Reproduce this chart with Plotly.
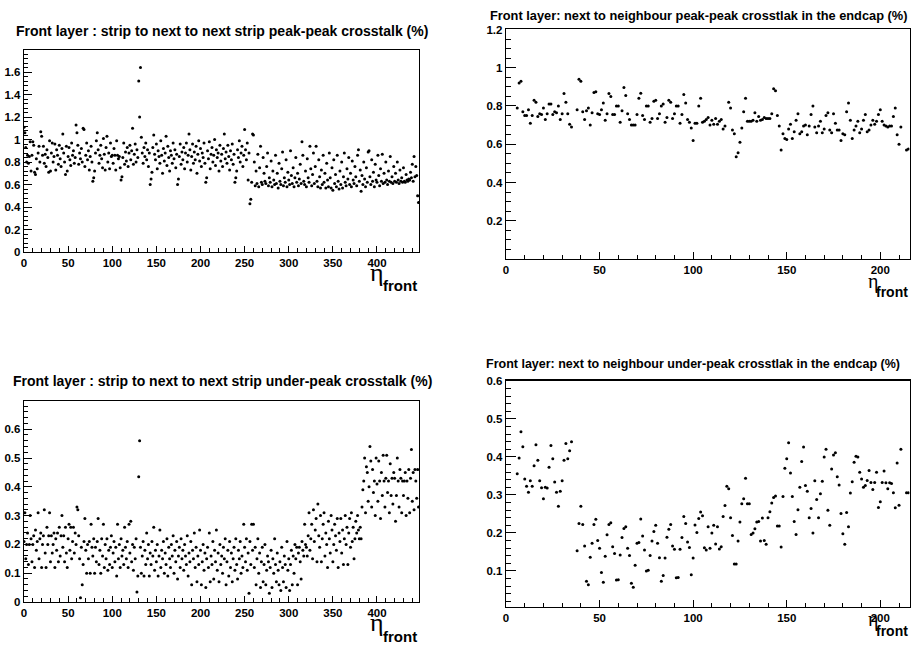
import plotly.graph_objects as go

# ---------------- data ----------------
titles = [
    "Front layer : strip to next to next strip peak-peak crosstalk (%)",
    "Front layer: next to neighbour peak-peak crosstlak in the endcap (%)",
    "Front layer : strip to next to next strip under-peak crosstalk (%)",
    "Front layer: next to neighbour under-peak crosstlak in the endcap (%)",
]

# barrel strips 0..447
barrel_peak = [
    1.11, 1.06, 0.93, 0.80, 0.86, 0.79, 0.85, 0.98, 0.72, 0.86,
    0.98, 0.95, 0.71, 0.69, 0.83, 0.74, 0.88, 0.94, 0.80, 1.07,
    1.03, 0.86, 0.94, 0.79, 0.87, 0.76, 0.91, 0.84, 0.71, 0.99,
    0.72, 0.88, 0.97, 0.80, 0.85, 0.96, 0.73, 0.91, 0.86, 0.78,
    0.95, 0.83, 0.76, 0.92, 1.05, 0.88, 0.80, 0.69, 0.94, 0.72,
    0.85, 0.93, 0.82, 0.77, 0.97, 0.86, 0.90, 0.79, 0.84, 1.13,
    1.06, 0.95, 0.78, 0.88, 0.83, 0.92, 0.80, 1.10, 1.09, 0.76,
    0.86, 0.97, 0.82, 0.90, 0.73, 0.85, 0.94, 0.80, 0.63, 0.66,
    0.72, 0.88, 0.99, 1.06, 0.91, 0.79, 0.86, 0.95, 0.83, 0.75,
    1.01, 0.87, 0.73, 0.93, 1.03, 0.80, 0.88, 0.74, 0.97, 0.85,
    0.86, 0.79, 0.92, 0.86, 0.73, 0.99, 0.86, 0.83, 0.85, 0.75,
    0.64, 0.67, 0.84, 0.97, 0.78, 0.89, 0.81, 0.93, 0.76, 0.88,
    0.95, 0.82, 0.90, 1.10, 0.78, 0.87, 0.96, 0.80, 0.91, 0.84,
    1.52, 1.20, 1.64, 1.02, 0.88, 0.79, 0.93, 0.85, 0.97, 0.82,
    0.91, 0.76, 0.88, 0.60, 0.65, 0.71, 0.93, 1.04, 0.87, 0.82,
    0.96, 0.74, 0.90, 0.85, 0.79, 0.99, 0.86, 0.70, 0.92, 0.81,
    0.88, 1.03, 0.77, 0.94, 0.84, 0.72, 0.90, 0.86, 0.79, 0.97,
    0.83, 0.91, 0.75, 0.87, 0.60, 0.65, 0.85, 0.96, 0.78, 0.89,
    0.82, 0.93, 0.74, 0.88, 0.97, 0.80, 0.86, 1.05, 0.91, 0.73,
    0.85, 0.96, 0.79, 0.89, 0.82, 0.94, 0.70, 0.87, 0.99, 0.81,
    0.92, 0.76, 0.88, 0.84, 0.97, 0.79, 0.62, 0.66, 0.90, 0.83,
    0.98, 0.74, 0.87, 0.93, 0.80, 0.86, 1.00, 0.77, 0.91, 0.84,
    0.88, 0.72, 0.95, 0.81, 0.87, 0.76, 0.92, 1.05, 0.83, 0.89,
    0.79, 0.95, 0.85, 0.73, 0.90, 0.82, 0.96, 0.78, 0.87, 0.62,
    0.66, 0.72, 0.91, 0.84, 0.99, 0.80, 0.88, 0.94, 0.76, 0.86,
    1.09, 0.91, 0.82, 0.97, 0.64, 0.88, 0.43, 0.47, 0.62, 1.05,
    1.04, 0.80, 0.59, 0.72, 0.61, 0.87, 0.58, 0.75, 0.94, 0.62,
    0.60, 0.84, 0.70, 0.63, 0.61, 0.76, 0.88, 0.59, 0.66, 0.62,
    0.81, 0.58, 0.72, 0.64, 0.60, 0.86, 0.61, 0.70, 0.57, 0.79,
    0.63, 0.60, 0.74, 0.89, 0.59, 0.66, 0.62, 0.82, 0.58, 0.71,
    0.64, 0.60, 0.90, 0.68, 0.61, 0.75, 0.58, 0.66, 0.84, 0.62,
    0.70, 0.59, 0.65, 0.78, 0.61, 0.98, 0.86, 0.63, 0.60, 0.72,
    0.58, 0.83, 0.66, 0.62, 0.94, 0.74, 0.59, 0.69, 0.88, 0.61,
    0.76, 0.94, 0.63, 0.58, 0.82, 0.67, 0.57, 0.73, 0.60, 0.86,
    0.62, 0.70, 0.57, 0.79, 0.64, 0.58, 0.88, 0.66, 0.57, 0.75,
    0.55, 0.82, 0.61, 0.69, 0.58, 0.86, 0.63, 0.56, 0.72, 0.60,
    0.80, 0.57, 0.67, 0.88, 0.62, 0.59, 0.74, 0.65, 0.84, 0.60,
    0.70, 0.58, 0.81, 0.64, 0.61, 0.76, 0.67, 0.59, 0.86, 0.91,
    0.63, 0.73, 0.54, 0.68, 0.60, 0.80, 0.65, 0.58, 0.75, 0.62,
    0.89, 0.90, 0.67, 0.60, 0.82, 0.63, 0.71, 0.58, 0.78, 0.64,
    0.62, 0.86, 0.68, 0.59, 0.74, 0.63, 0.87, 0.61, 0.70, 0.62,
    0.80, 0.64, 0.60, 0.72, 0.63, 0.85, 0.62, 0.67, 0.61, 0.76,
    0.63, 0.70, 0.62, 0.80, 0.64, 0.61, 0.73, 0.63, 0.66, 0.62,
    0.75, 0.63, 0.62, 0.69, 0.64, 0.63, 0.65, 0.64, 0.71, 0.66,
    0.78, 0.63, 0.85, 0.67, 0.76, 0.68, 0.50, 0.44,
]

barrel_under = [
    0.21, 0.31, 0.15, 0.20, 0.24, 0.13, 0.20, 0.30, 0.22, 0.14,
    0.20, 0.23, 0.12, 0.25, 0.18, 0.21, 0.31, 0.15, 0.22, 0.24,
    0.12, 0.20, 0.23, 0.32, 0.17, 0.12, 0.26, 0.20, 0.23, 0.31,
    0.14, 0.23, 0.17, 0.20, 0.24, 0.12, 0.22, 0.18, 0.24, 0.14,
    0.26, 0.16, 0.23, 0.30, 0.19, 0.23, 0.14, 0.26, 0.17, 0.12,
    0.22, 0.27, 0.18, 0.26, 0.15, 0.21, 0.26, 0.17, 0.24, 0.20,
    0.33, 0.32, 0.23, 0.15, 0.015, 0.19, 0.06, 0.13, 0.21, 0.29,
    0.18, 0.10, 0.20, 0.15, 0.21, 0.10, 0.27, 0.19, 0.16, 0.22,
    0.10, 0.19, 0.14, 0.21, 0.29, 0.13, 0.18, 0.10, 0.22, 0.16,
    0.27, 0.12, 0.20, 0.15, 0.22, 0.11, 0.18, 0.13, 0.19, 0.23,
    0.12, 0.17, 0.21, 0.14, 0.19, 0.09, 0.27, 0.15, 0.20, 0.12,
    0.22, 0.16, 0.18, 0.13, 0.26, 0.19, 0.15, 0.21, 0.12, 0.27,
    0.17, 0.28, 0.14, 0.20, 0.11, 0.19, 0.15, 0.22, 0.035, 0.09,
    0.435, 0.56, 0.19, 0.10, 0.16, 0.21, 0.09, 0.18, 0.13, 0.24,
    0.15, 0.20, 0.09, 0.17, 0.13, 0.21, 0.16, 0.26, 0.11, 0.18,
    0.14, 0.20, 0.09, 0.16, 0.25, 0.12, 0.18, 0.15, 0.21, 0.10,
    0.17, 0.13, 0.22, 0.09, 0.19, 0.15, 0.12, 0.20, 0.16, 0.23,
    0.10, 0.18, 0.14, 0.21, 0.08, 0.16, 0.19, 0.12, 0.22, 0.15,
    0.18, 0.11, 0.20, 0.16, 0.13, 0.23, 0.09, 0.17, 0.14, 0.21,
    0.06, 0.18, 0.15, 0.24, 0.12, 0.19, 0.07, 0.16, 0.13, 0.25,
    0.18, 0.06, 0.14, 0.20, 0.11, 0.17, 0.05, 0.15, 0.19, 0.12,
    0.24, 0.07, 0.16, 0.13, 0.21, 0.08, 0.18, 0.14, 0.25, 0.11,
    0.17, 0.07, 0.20, 0.13, 0.16, 0.10, 0.19, 0.15, 0.22, 0.06,
    0.14, 0.18, 0.09, 0.21, 0.12, 0.17, 0.07, 0.15, 0.19, 0.11,
    0.22, 0.13, 0.08, 0.18, 0.15, 0.21, 0.10, 0.16, 0.12, 0.27,
    0.19, 0.14, 0.22, 0.11, 0.17, 0.03, 0.21, 0.13, 0.27, 0.18,
    0.27, 0.12, 0.19, 0.06, 0.15, 0.22, 0.10, 0.17, 0.05, 0.14,
    0.19, 0.07, 0.13, 0.20, 0.06, 0.11, 0.16, 0.14, 0.03, 0.12,
    0.18, 0.05, 0.15, 0.10, 0.22, 0.13, 0.07, 0.17, 0.11, 0.06,
    0.14, 0.04, 0.19, 0.12, 0.07, 0.16, 0.13, 0.05, 0.21, 0.11,
    0.15, 0.04, 0.13, 0.18, 0.06, 0.16, 0.10, 0.20, 0.15, 0.19,
    0.06, 0.17, 0.19, 0.14, 0.08, 0.21, 0.18, 0.16, 0.27, 0.20,
    0.19, 0.16, 0.23, 0.31, 0.18, 0.22, 0.27, 0.15, 0.32, 0.21,
    0.25, 0.29, 0.14, 0.34, 0.23, 0.19, 0.30, 0.14, 0.22, 0.27,
    0.31, 0.16, 0.24, 0.20, 0.12, 0.28, 0.22, 0.17, 0.30, 0.25,
    0.14, 0.20, 0.27, 0.23, 0.18, 0.29, 0.12, 0.24, 0.21, 0.29,
    0.17, 0.25, 0.13, 0.22, 0.30, 0.20, 0.26, 0.13, 0.24, 0.29,
    0.19, 0.31, 0.21, 0.26, 0.15, 0.22, 0.28, 0.24, 0.30, 0.25,
    0.22, 0.26, 0.22, 0.33, 0.39, 0.42, 0.50, 0.31, 0.47, 0.45,
    0.35, 0.40, 0.54, 0.49, 0.33, 0.46, 0.38, 0.42, 0.30, 0.50,
    0.41, 0.35, 0.49, 0.42, 0.29, 0.45, 0.37, 0.51, 0.42, 0.33,
    0.43, 0.51, 0.38, 0.42, 0.31, 0.48, 0.37, 0.43, 0.34, 0.45,
    0.43, 0.28, 0.37, 0.50, 0.42, 0.33, 0.46, 0.43, 0.31, 0.42,
    0.37, 0.42, 0.45, 0.30, 0.42, 0.36, 0.46, 0.31, 0.43, 0.53,
    0.35, 0.45, 0.32, 0.46, 0.42, 0.36, 0.46, 0.33,
]

# endcap strips 6..215 (None = no measurement)
endcap_first = 6
endcap_peak = [
    0.79, 0.92, 0.93, 0.77, 0.75, 0.75, 0.78, 0.71, 0.75, 0.83,
    0.82, 0.745, 0.76, 0.755, 0.79, 0.73, 0.76, 0.81, 0.81, 0.755,
    0.77, 0.765, 0.80, 0.73, 0.76, 0.865, 0.82, 0.76, 0.705, 0.69,
    None, None,
    0.78, 0.94, 0.93, 0.77, 0.73, 0.775, 0.79, 0.70, 0.765, 0.87,
    0.875, 0.76, 0.755, 0.78, 0.815, 0.725, 0.76, 0.865, 0.85, 0.755,
    0.755, 0.80, 0.80, 0.715, 0.775, 0.897, 0.855, 0.76, 0.73, 0.70,
    0.70, 0.70, 0.755, 0.84, 0.866, 0.75, 0.73, 0.80, 0.80, 0.715,
    0.735, 0.825, 0.83, 0.735, 0.76, 0.80, 0.81, 0.715, 0.74, 0.83,
    0.82, 0.735, 0.76, 0.80, 0.80, 0.71, 0.755, 0.86, 0.815, 0.73,
    0.715, 0.685, 0.62, 0.71, 0.71, 0.80, 0.84, 0.715, 0.72, 0.73,
    0.74, 0.70, 0.725, 0.705, 0.735, 0.705, 0.72, 0.73, 0.68, 0.695,
    None, 0.82, 0.79, 0.675, 0.655, 0.535, 0.555, 0.61, 0.685, 0.77,
    0.84, 0.72, 0.72, 0.72, 0.725, 0.765, 0.72, 0.745, 0.725, 0.73,
    0.74, 0.735, 0.735, 0.735, 0.76, 0.89, 0.88, 0.75, 0.695, 0.57,
    0.655, 0.63, 0.625, 0.68, 0.705, 0.63, 0.665, 0.725, 0.76, 0.655,
    0.665, 0.695, 0.70, 0.65, 0.695, 0.755, 0.80, 0.69, 0.66, 0.695,
    0.72, 0.66, 0.68, 0.75, 0.765, 0.675, 0.66, 0.76, 0.71, 0.675,
    0.675, 0.62, 0.655, 0.65, 0.77, 0.815, 0.725, 0.63, 0.675, 0.695,
    0.72, 0.66, 0.68, 0.725, 0.755, 0.665, 0.675, 0.70, 0.725, 0.705,
    0.72, 0.755, 0.78, 0.72, 0.70, 0.695, 0.69, 0.695, 0.695, 0.745,
    0.79, 0.65, 0.60, 0.69, None, None, 0.57, 0.575,
]

endcap_under = [
    0.356, 0.397, 0.466, 0.427, 0.342, 0.323, 0.307, 0.337, 0.323, 0.377,
    0.432, 0.391, 0.337, 0.319, 0.29, 0.32, 0.318, 0.373, 0.43, 0.395,
    0.334, 0.307, 0.27, 0.31, 0.337, 0.391, 0.435, 0.395, 0.416, 0.44,
    None, None,
    0.153, 0.225, 0.27, 0.222, 0.166, 0.073, 0.064, 0.136, 0.173, 0.222,
    0.236, 0.18, 0.16, 0.096, 0.07, 0.139, 0.195, 0.222, 0.227, 0.164,
    0.146, 0.076, 0.077, 0.142, 0.188, 0.212, 0.216, 0.16, 0.141, 0.068,
    0.057, 0.115, 0.173, 0.175, 0.237, 0.192, 0.155, 0.10, 0.102, 0.141,
    0.179, 0.204, 0.22, 0.173, 0.135, 0.073, 0.088, 0.134, 0.189, 0.21,
    0.222, 0.166, 0.157, 0.082, 0.083, 0.157, 0.188, 0.243, 0.225, 0.176,
    0.162, 0.09, 0.134, 0.221, 0.201, 0.238, 0.255, 0.245, 0.161, 0.155,
    0.216, 0.16, 0.20, 0.22, 0.171, 0.216, 0.158, 0.164, 0.243, 0.272,
    0.323, 0.316, 0.24, 0.193, 0.118, 0.118, 0.179, 0.229, 0.277, 0.29,
    0.344, 0.277, 0.277, 0.196, 0.20, 0.211, 0.229, 0.23, 0.179, 0.239,
    0.18, 0.17, 0.24, 0.256, 0.279, 0.293, 0.297, 0.218, 0.218, 0.163,
    0.296, 0.37, 0.395, 0.437, 0.358, 0.296, 0.23, 0.196, 0.261, 0.32,
    0.388, 0.426, 0.325, 0.31, 0.24, 0.264, 0.20, 0.337, 0.288, 0.24,
    0.303, 0.336, 0.40, 0.42, 0.26, 0.22, 0.368, 0.405, 0.411, 0.348,
    0.326, 0.251, 0.198, 0.17, 0.254, 0.216, 0.305, 0.335, 0.386, 0.402,
    0.40, 0.36, 0.342, 0.32, 0.325, 0.338, 0.364, 0.333, 0.314, 0.333,
    0.36, 0.267, 0.282, 0.333, 0.363, 0.332, 0.316, 0.332, 0.33, 0.306,
    0.266, 0.384, 0.273, 0.42, None, None, 0.306, 0.306,
]

x_barrel = list(range(len(barrel_peak)))
x_endcap = list(range(endcap_first, endcap_first + len(endcap_peak)))

# ---------------- figure ----------------
W, H = 911, 650
FONT = "Liberation Sans, Arial, Helvetica, sans-serif"
SERIF = "Liberation Serif, Times New Roman, serif"

def px_dom_x(a, b):
    return [a / W, b / W]

def px_dom_y(top, bottom):
    return [1 - bottom / H, 1 - top / H]

panels = [
    dict(xd=px_dom_x(24, 419), yd=px_dom_y(50, 252), xr=[0, 447.6], yr=[0, 1.796],
         ydt=0.2, ymn=0.04, x=x_barrel, y=barrel_peak, ylen=8, xlen=6),
    dict(xd=px_dom_x(506, 909.5), yd=px_dom_y(29.4, 258.6), xr=[0, 215.6], yr=[0.002, 1.2005],
         ydt=0.2, ymn=0.05, x=x_endcap, y=endcap_peak, ylen=10, xlen=7),
    dict(xd=px_dom_x(24, 419), yd=px_dom_y(401, 602), xr=[0, 447.6], yr=[0, 0.698],
         ydt=0.1, ymn=0.02, x=x_barrel, y=barrel_under, ylen=8, xlen=6),
    dict(xd=px_dom_x(506, 909.5), yd=px_dom_y(380.7, 606.7), xr=[0, 215.6], yr=[0.006, 0.6005],
         ydt=0.1, ymn=0.02, x=x_endcap, y=endcap_under, ylen=10, xlen=7),
]

fig = go.Figure()
layout = dict(
    width=W, height=H,
    margin=dict(l=0, r=0, t=0, b=0, autoexpand=False),
    paper_bgcolor="white", plot_bgcolor="white",
    showlegend=False,
    font=dict(family=FONT, color="black"),
)

for i, p in enumerate(panels):
    n = "" if i == 0 else str(i + 1)
    fig.add_trace(go.Scatter(
        x=p["x"], y=p["y"], mode="markers",
        marker=dict(size=3, color="black", symbol="circle"),
        xaxis="x" + n, yaxis="y" + n, hoverinfo="skip",
    ))
    layout["xaxis" + n] = dict(
        domain=p["xd"], range=p["xr"], anchor="y" + n, automargin=False,
        showgrid=False, zeroline=False, showline=True, linecolor="black", linewidth=1.3,
        mirror=True, ticks="inside", ticklen=p["xlen"], tickwidth=1, tickcolor="black",
        dtick=50, tick0=0,
        minor=dict(dtick=10, tick0=0, ticks="inside", ticklen=p["xlen"] // 2 + 1,
                   tickcolor="black", tickwidth=1),
        tickfont=dict(family=FONT, size=11.5, color="black", weight="bold"),
    )
    layout["yaxis" + n] = dict(
        domain=p["yd"], range=p["yr"], anchor="x" + n, automargin=False,
        showgrid=False, zeroline=False, showline=True, linecolor="black", linewidth=1.3,
        mirror=True, ticks="inside", ticklen=p["ylen"], tickwidth=1, tickcolor="black",
        dtick=p["ydt"], tick0=0,
        minor=dict(dtick=p["ymn"], tick0=0, ticks="inside", ticklen=p["ylen"] // 2,
                   tickcolor="black", tickwidth=1),
        tickfont=dict(family=FONT, size=11.5, color="black", weight="bold"),
    )

fig.update_layout(**layout)

# titles: (center x, center y, font size)
title_pos = [(222, 30.5, 14), (698, 16, 12.8), (222, 380.5, 14), (692.5, 364, 12.5)]
for t, (cx, cy, fs) in zip(titles, title_pos):
    fig.add_annotation(text="<b>" + t + "</b>", x=cx / W, y=1 - cy / H,
                       xref="paper", yref="paper", showarrow=False,
                       xanchor="center", yanchor="middle",
                       font=dict(family=FONT, size=fs, color="black"))

# eta_front axis titles: (eta left x, eta center y, eta size, front right x, front center y, front size)
eta_pos = [
    (368, 272, 26, 419, 286, 15),
    (866, 281, 20, 910, 292, 14),
    (368, 622, 26, 419, 636, 15),
    (866, 619, 20, 910, 631, 14),
]
for (ex, ey, es, fx, fy, fsz) in eta_pos:
    fig.add_annotation(text="η", x=ex / W, y=1 - ey / H,
                       xref="paper", yref="paper", showarrow=False,
                       xanchor="left", yanchor="middle",
                       font=dict(family=SERIF, size=es, color="black"))
    fig.add_annotation(text="<b>front</b>", x=fx / W, y=1 - fy / H,
                       xref="paper", yref="paper", showarrow=False,
                       xanchor="right", yanchor="middle",
                       font=dict(family=FONT, size=fsz, color="black"))

fig.write_html(
    "out.html",
    config={"displayModeBar": False, "staticPlot": True},
    post_script="document.body.style.margin='0';document.body.style.overflow='hidden';",
)
